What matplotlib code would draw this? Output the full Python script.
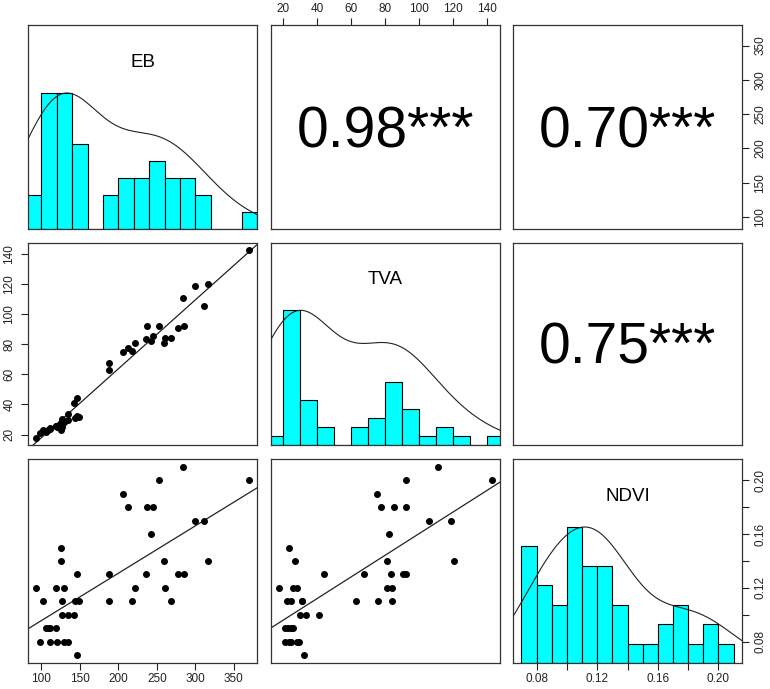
import numpy as np
import matplotlib.pyplot as plt

plt.rcParams['font.family'] = ['Liberation Sans', 'DejaVu Sans']

# one entry per observation (44 plots)
eb = [284, 253, 369, 206, 212, 237, 245, 299, 311, 242, 125, 125, 259.7, 317,
      146, 188, 236, 277, 285, 93.5, 119.5, 129, 222, 261, 101.7, 126.2, 143.2,
      148.4, 187.7, 217.8, 268.8, 126.2, 134, 142.8, 105.5, 108, 111.4, 119,
      97.9, 110.9, 119.6, 129, 134.5, 146.3]
tva = [111, 92, 142.5, 75, 77.5, 92, 85.5, 119, 105.5, 82.3, 23.3, 27.4, 81, 120.5,
       44, 67.4, 83.7, 90.8, 92, 18, 26, 28, 81, 84.3, 22.7, 24.7, 31,
       31.5, 62.7, 75.6, 84.3, 30.2, 33.6, 41, 21.5, 23, 24.5, 26,
       21, 23.7, 25, 28.3, 29.5, 32.2]
ndvi = [0.21, 0.20, 0.20, 0.19, 0.18, 0.18, 0.18, 0.17, 0.17, 0.16, 0.15, 0.14, 0.14, 0.14,
        0.13, 0.13, 0.13, 0.13, 0.13, 0.12, 0.12, 0.12, 0.12, 0.12, 0.11, 0.11, 0.11,
        0.11, 0.11, 0.11, 0.11, 0.10, 0.10, 0.10, 0.09, 0.09, 0.09, 0.09,
        0.08, 0.08, 0.08, 0.08, 0.08, 0.07]

names = ['EB', 'TVA', 'NDVI']
data = [np.array(eb), np.array(tva), np.array(ndvi)]
breaks = [np.arange(80, 381, 20),
          np.arange(10, 151, 10),
          np.round(np.arange(0.07, 0.2101, 0.01), 2)]
# upper panels: (row, col) -> text
corr_text = {(0, 1): '0.98***', (0, 2): '0.70***', (1, 2): '0.75***'}

eb_ticks = [100, 150, 200, 250, 300, 350]
tva_ticks = [20, 40, 60, 80, 100, 120, 140]
ndvi_ticks = [0.08, 0.10, 0.12, 0.14, 0.16, 0.18, 0.20]
ndvi_labels = ['0.08', '', '0.12', '', '0.16', '', '0.20']


def r_hist(x, br):
    idx = np.clip(np.searchsorted(br, x, side='left') - 1, 0, len(br) - 2)
    return np.bincount(idx, minlength=len(br) - 1)


def r_density(x, adjust=1.5):
    n = len(x)
    iqr = np.subtract(*np.percentile(x, [75, 25]))
    bw = adjust * 0.9 * min(x.std(ddof=1), iqr / 1.34) * n ** -0.2
    g = np.linspace(x.min() - 3 * bw, x.max() + 3 * bw, 512)
    d = np.exp(-0.5 * ((g[:, None] - x[None, :]) / bw) ** 2).sum(1)
    return g, d / d.max()


def lims(x):
    pad = 0.04 * (x.max() - x.min())
    return x.min() - pad, x.max() + pad


W, H = 770, 689
fig = plt.figure(figsize=(W / 100, H / 100), dpi=100)
col_x = [(28, 257), (271, 500), (513, 742)]
row_y = [(25, 229), (243, 445), (459, 663)]

tick_kw = dict(length=5, width=0.8, labelsize=8.5, colors='#222222')
axes = {}
for i in range(3):
    for j in range(3):
        x0, x1 = col_x[j]
        y0, y1 = row_y[i]
        ax = fig.add_axes([x0 / W, 1 - y1 / H, (x1 - x0) / W, (y1 - y0) / H])
        axes[i, j] = ax
        for s in ax.spines.values():
            s.set_linewidth(0.9)
            s.set_color('#333333')
        ax.set_xticks([])
        ax.set_yticks([])
        ax.set_xlim(lims(data[j]))
        if i == j:
            x = data[i]
            br = breaks[i]
            c = r_hist(x, br)
            ax.bar(br[:-1], c / c.max(), width=np.diff(br), align='edge',
                   color='#00FFFF', edgecolor='black', linewidth=0.8, zorder=2)
            g, d = r_density(x)
            ax.plot(g, d, color='#222222', lw=0.8, zorder=3)
            ax.set_ylim(0, 1.5)
            ax.text(0.5, 0.795, names[i], transform=ax.transAxes, ha='center',
                    va='baseline', fontsize=13.5)
        elif i > j:
            ax.set_ylim(lims(data[i]))
            ax.scatter(data[j], data[i], s=16, color='black', zorder=3)
            k, b = np.polyfit(data[j], data[i], 1)
            ax.axline((0, b), slope=k, color='#222222', lw=0.9)
        else:
            ax.set_ylim(lims(data[i]))
            hpx = y1 - y0
            ax.text(0.5, 0.5 - 20 / hpx, corr_text[i, j], transform=ax.transAxes,
                    ha='center', va='baseline', fontsize=41)

# outer axes like R pairs()
ax = axes[2, 0]
ax.set_xticks(eb_ticks)
ax.tick_params(axis='x', pad=2, **tick_kw)

ax = axes[2, 2]
ax.set_xticks(ndvi_ticks)
ax.set_xticklabels(ndvi_labels)
ax.tick_params(axis='x', pad=2, **tick_kw)
tw = ax.twinx()
tw.set_ylim(lims(data[2]))
tw.set_yticks(ndvi_ticks)
tw.set_yticklabels(ndvi_labels, rotation=90, va='center')
tw.tick_params(axis='y', pad=4, **tick_kw)
for s in tw.spines.values():
    s.set_visible(False)

ax = axes[0, 1]
ax.xaxis.tick_top()
ax.set_xticks(tva_ticks)
ax.tick_params(axis='x', pad=2.5, **tick_kw)

ax = axes[0, 2]
ax.yaxis.tick_right()
ax.set_yticks(eb_ticks)
ax.set_yticklabels(eb_ticks, rotation=90, va='center')
ax.tick_params(axis='y', pad=4, **tick_kw)

ax = axes[1, 0]
ax.set_yticks(tva_ticks)
ax.set_yticklabels(tva_ticks, rotation=90, va='center')
ax.tick_params(axis='y', pad=4, **tick_kw)

fig.savefig('out.png', dpi=100)
